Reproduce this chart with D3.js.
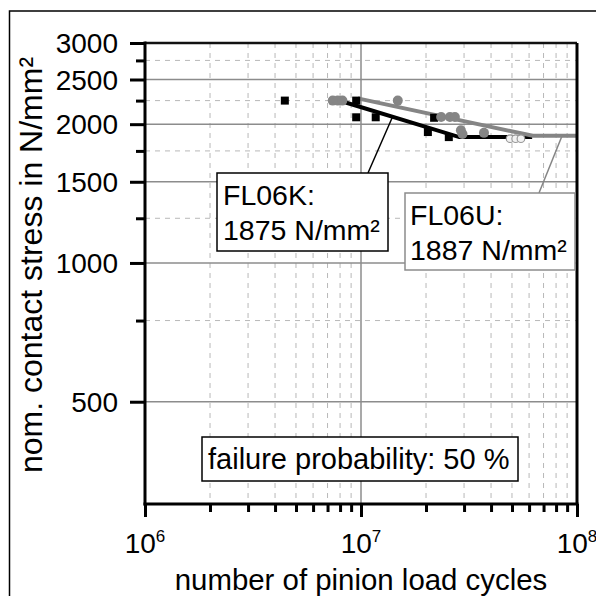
<!DOCTYPE html>
<html><head><meta charset="utf-8">
<script src="https://cdn.jsdelivr.net/npm/d3@7"></script>
<style>
body{margin:0;background:#fff}
svg{display:block}
text{font-family:"Liberation Sans",Arial,Helvetica,sans-serif;fill:#000}
</style>
</head><body>
<svg id="c" width="596" height="596"></svg>
<script>
// ---- data ----
const xDomain = [1e6, 1e8];
const yDomain = [300, 3000];
const yMajorTicks = [500, 1000, 1500, 2000, 2500, 3000];
const yMinorTicks = [750, 1250, 1750, 2250, 2750];
const xMajorTicks = [1e6, 1e7, 1e8];
const xMajorBase = ["10", "10", "10"];
const xMajorExp = ["6", "7", "8"];
const xMinorTicks = [2e6,3e6,4e6,5e6,6e6,7e6,8e6,9e6,2e7,3e7,4e7,5e7,6e7,7e7,8e7,9e7];

const fl06kCycles = [4.44e6, 9.5e6, 9.5e6, 1.17e7, 2.04e7, 2.18e7, 2.55e7];
const fl06kStress = [2250, 2250, 2070, 2070, 1923, 2065, 1875];
const fl06uCycles = [7.4e6, 7.8e6, 8.2e6, 1.48e7, 2.35e7, 2.58e7, 2.72e7, 2.9e7, 2.95e7, 3.71e7];
const fl06uStress = [2250, 2250, 2250, 2250, 2073, 2073, 2073, 1940, 1905, 1915];
const fl06uRunoutCycles = [4.9e7, 5.2e7, 5.5e7];
const fl06uRunoutStress = [1860, 1860, 1860];

const fl06kLineCycles = [8.2e6, 2.85e7, 6.2e7];
const fl06kLineStress = [2240, 1875, 1875];
const fl06uLineCycles = [9.66e6, 6.24e7, 1e8];
const fl06uLineStress = [2275, 1887, 1887];

const fl06kLabel = ["FL06K:", "1875 N/mm²"];
const fl06uLabel = ["FL06U:", "1887 N/mm²"];
const fl06kLeaderTarget = [1.4e7, 2075];
const fl06uLeaderTarget = [8.53e7, 1887];
const noteLabel = "failure probability: 50 %";
const xTitle = "number of pinion load cycles";
const yTitle = "nom. contact stress in N/mm²";

// ---- chart ----
const svg = d3.select("#c");
const L = 145, R = 577, T = 43, B = 504;
const x = d3.scaleLog().domain(xDomain).range([L, R]);
const y = d3.scaleLog().domain(yDomain).range([B, T]);

// outer frame
svg.append("rect").attr("x", 9.5).attr("y", 11).attr("width", 700).attr("height", 700)
  .attr("fill", "none").attr("stroke", "#000").attr("stroke-width", 1.5);

const grid = svg.append("g");
// minor dashed grid
grid.selectAll(".vmin").data(xMinorTicks).join("line")
  .attr("x1", d => x(d)).attr("x2", d => x(d)).attr("y1", T).attr("y2", B)
  .attr("stroke", "#b8b8b8").attr("stroke-width", 1).attr("stroke-dasharray", "5,5");
grid.selectAll(".hmin").data(yMinorTicks).join("line")
  .attr("y1", d => y(d)).attr("y2", d => y(d)).attr("x1", L).attr("x2", R)
  .attr("stroke", "#b8b8b8").attr("stroke-width", 1).attr("stroke-dasharray", "5,5");
// major solid grid
grid.selectAll(".vmaj").data(xMajorTicks.slice(1, -1)).join("line")
  .attr("x1", d => x(d)).attr("x2", d => x(d)).attr("y1", T).attr("y2", B)
  .attr("stroke", "#8c8c8c").attr("stroke-width", 1.5);
grid.selectAll(".hmaj").data(yMajorTicks.slice(0, -1)).join("line")
  .attr("y1", d => y(d)).attr("y2", d => y(d)).attr("x1", L).attr("x2", R)
  .attr("stroke", "#8c8c8c").attr("stroke-width", 1.5);

// lines
const line = d3.line().x(d => x(d[0])).y(d => y(d[1]));
svg.append("path").datum(d3.zip(fl06kLineCycles, fl06kLineStress)).attr("d", line)
  .attr("fill", "none").attr("stroke", "#000").attr("stroke-width", 4);
svg.append("path").datum(d3.zip(fl06uLineCycles, fl06uLineStress)).attr("d", line)
  .attr("fill", "none").attr("stroke", "#858585").attr("stroke-width", 4);

// markers
const sq = 8;
svg.selectAll(".sq").data(d3.zip(fl06kCycles, fl06kStress)).join("rect")
  .attr("x", d => x(d[0]) - sq / 2).attr("y", d => y(d[1]) - sq / 2)
  .attr("width", sq).attr("height", sq).attr("fill", "#000");
svg.selectAll(".ci").data(d3.zip(fl06uCycles, fl06uStress)).join("circle")
  .attr("cx", d => x(d[0])).attr("cy", d => y(d[1])).attr("r", 5).attr("fill", "#858585");
svg.selectAll(".ro").data(d3.zip(fl06uRunoutCycles, fl06uRunoutStress)).join("circle")
  .attr("cx", d => x(d[0])).attr("cy", d => y(d[1])).attr("r", 3.8)
  .attr("fill", "#f2f2f2").attr("stroke", "#999").attr("stroke-width", 1.2);

// axes frame
svg.append("line").attr("x1", L).attr("x2", R).attr("y1", T).attr("y2", T)
  .attr("stroke", "#111").attr("stroke-width", 2.5);
svg.append("line").attr("x1", R).attr("x2", R).attr("y1", T).attr("y2", B)
  .attr("stroke", "#000").attr("stroke-width", 3);

// y axis
const yAx = svg.append("g").attr("transform", `translate(${L},0)`)
  .call(d3.axisLeft(y).tickValues(yMajorTicks).tickFormat(d3.format("d")).tickSize(15).tickPadding(12));
yAx.selectAll("text").style("font-size", "28px").attr("dy", "0.34em");
const yAxMin = svg.append("g").attr("transform", `translate(${L},0)`)
  .call(d3.axisLeft(y).tickValues(yMinorTicks).tickFormat("").tickSize(9));
// x axis
const xAx = svg.append("g").attr("transform", `translate(0,${B})`)
  .call(d3.axisBottom(x).tickValues(xMajorTicks).tickFormat("").tickSize(13));
const xAxMin = svg.append("g").attr("transform", `translate(0,${B})`)
  .call(d3.axisBottom(x).tickValues(xMinorTicks).tickFormat("").tickSize(8));
[yAx, yAxMin, xAx, xAxMin].forEach(g => {
  g.select(".domain").remove();
  g.selectAll(".tick line").attr("stroke", "#000").attr("stroke-width", 3);
});
svg.append("line").attr("x1", L).attr("x2", L).attr("y1", T - 1.5).attr("y2", B + 1.5)
  .attr("stroke", "#000").attr("stroke-width", 3);
svg.append("line").attr("x1", L - 1.5).attr("x2", R + 1.5).attr("y1", B).attr("y2", B)
  .attr("stroke", "#000").attr("stroke-width", 3);

// x tick labels with superscripts
xMajorTicks.forEach((v, i) => {
  const t = svg.append("text").attr("x", x(v)).attr("y", 553).attr("text-anchor", "middle")
    .style("font-size", "28px");
  t.append("tspan").text(xMajorBase[i]);
  t.append("tspan").text(xMajorExp[i]).attr("dy", -11).style("font-size", "17px");
});

// titles
svg.append("text").attr("x", 361).attr("y", 590).attr("text-anchor", "middle")
  .style("font-size", "29.4px").text(xTitle);
svg.append("text").attr("transform", "translate(42,265) rotate(-90)").attr("text-anchor", "middle")
  .style("font-size", "32px").text(yTitle);

// annotation boxes
function box(x0, y0, w, h, stroke) {
  svg.append("rect").attr("x", x0).attr("y", y0).attr("width", w).attr("height", h)
    .attr("fill", "#fff").attr("stroke", stroke).attr("stroke-width", 1.5);
}
// leader lines
svg.append("line").attr("x1", 368).attr("y1", 173)
  .attr("x2", x(fl06kLeaderTarget[0])).attr("y2", y(fl06kLeaderTarget[1]))
  .attr("stroke", "#000").attr("stroke-width", 1.5);
svg.append("line").attr("x1", 539).attr("y1", 193)
  .attr("x2", x(fl06uLeaderTarget[0])).attr("y2", y(fl06uLeaderTarget[1]))
  .attr("stroke", "#858585").attr("stroke-width", 1.5);

box(217, 173, 171, 78, "#000");
fl06kLabel.forEach((s, i) => svg.append("text").attr("x", 223).attr("y", 205 + i * 35)
  .style("font-size", "28.5px").text(s));
box(405, 193, 170, 77, "#8c8c8c");
fl06uLabel.forEach((s, i) => svg.append("text").attr("x", 410).attr("y", 225 + i * 35)
  .style("font-size", "28.5px").text(s));
box(202, 437, 316, 44, "#000");
svg.append("text").attr("x", 208).attr("y", 469).style("font-size", "29px").text(noteLabel);
</script>
</body></html>
